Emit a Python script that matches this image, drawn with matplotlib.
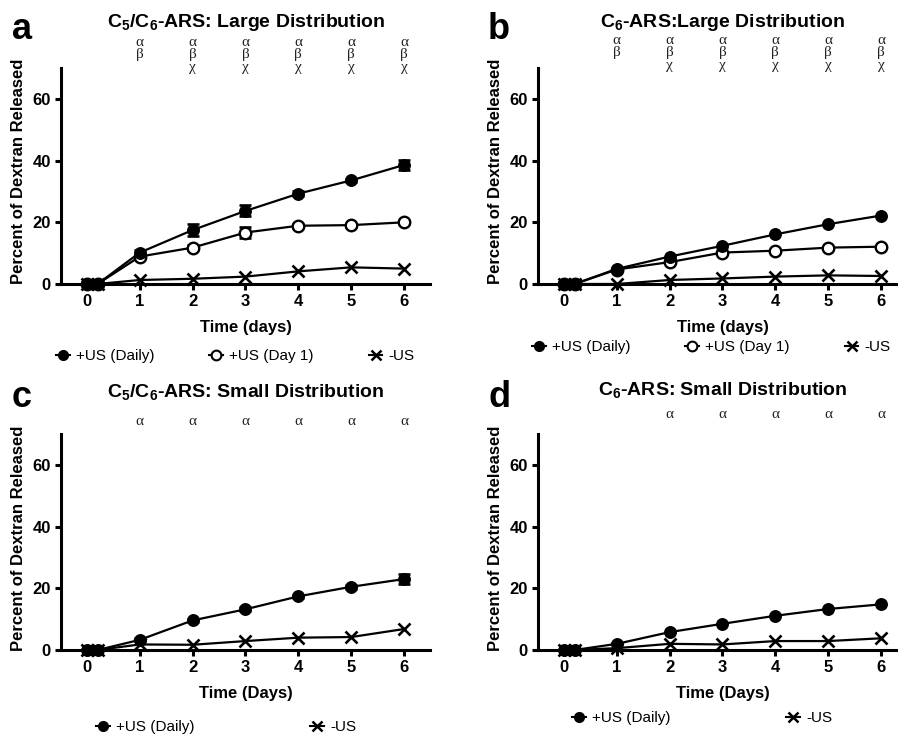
import matplotlib
matplotlib.use("Agg")
import matplotlib.pyplot as plt
from matplotlib.lines import Line2D

plt.rcParams['font.family'] = ['Liberation Sans', 'DejaVu Sans']
plt.rcParams['mathtext.fontset'] = 'custom'
plt.rcParams['mathtext.rm'] = 'Liberation Sans:bold'
plt.rcParams['mathtext.bf'] = 'Liberation Sans:bold'
plt.rcParams['mathtext.default'] = 'rm'

W, H = 898, 739

# time points (days)
days = [0, 0.2, 1, 2, 3, 4, 5, 6]

# panel a: C5/C6-ARS large
a_daily = [0, 0, 10.2, 17.5, 23.7, 29.3, 33.6, 38.6]
a_daily_err = [0, 0, 0.8, 2.0, 1.8, 0.8, 0.6, 1.5]
a_day1 = [0, 0, 8.9, 11.8, 16.7, 18.9, 19.1, 20.0]
a_day1_err = [0, 0, 0.6, 0.8, 1.8, 0.6, 0.5, 0.5]
a_nous = [0, 0, 1.3, 1.7, 2.4, 4.1, 5.4, 5.0]

# panel b: C6-ARS large
b_daily = [0, 0, 4.9, 8.9, 12.4, 16.1, 19.4, 22.2]
b_day1 = [0, 0, 4.7, 7.1, 10.2, 10.8, 11.8, 12.1]
b_nous = [0, 0, 0, 1.3, 1.8, 2.4, 2.8, 2.6]

# panel c: C5/C6-ARS small
c_daily = [0, 0, 3.3, 9.6, 13.2, 17.4, 20.5, 23.0]
c_daily_err = [0, 0, 0.5, 0.6, 0.6, 0.6, 0.6, 1.7]
c_nous = [0, 0, 1.8, 1.7, 2.9, 4.0, 4.2, 6.8]

# panel d: C6-ARS small
d_daily = [0, 0, 2.0, 5.8, 8.5, 11.1, 13.3, 14.8]
d_nous = [0, 0, 0.6, 2.0, 1.8, 2.9, 2.9, 3.8]

# significance letters above each day
a_sig = {1: "αβ", 2: "αβχ", 3: "αβχ", 4: "αβχ", 5: "αβχ", 6: "αβχ"}
b_sig = {1: "αβ", 2: "αβχ", 3: "αβχ", 4: "αβχ", 5: "αβχ", 6: "αβχ"}
c_sig = {1: "α", 2: "α", 3: "α", 4: "α", 5: "α", 6: "α"}
d_sig = {2: "α", 3: "α", 4: "α", 5: "α", 6: "α"}

lbl_daily = "+US (Daily)"
lbl_day1 = "+US (Day 1)"
lbl_nous = "-US"

fig = plt.figure(figsize=(W / 100, H / 100), dpi=100)


def px(x, y):
    return x / W, 1 - y / H


def make_axes(x0, y0):
    # x0 = pixel of x=0 ; y0 = pixel of y=0
    xs = 52.83
    ys = 3.083
    left = x0 - 0.5 * xs
    w = 7 * xs
    h = 70 * ys
    ax = fig.add_axes([left / W, 1 - y0 / H, w / W, h / H])
    ax.set_xlim(-0.5, 6.5)
    ax.set_ylim(0, 70)
    for s in ['top', 'right']:
        ax.spines[s].set_visible(False)
    for s in ['left', 'bottom']:
        ax.spines[s].set_linewidth(2.2)
    ax.set_xticks(range(7))
    ax.set_yticks([0, 20, 40, 60])
    ax.tick_params(width=2.2, length=4.5, labelsize=12, pad=2.5)
    for t in ax.get_xticklabels() + ax.get_yticklabels():
        t.set_fontweight('bold')
    return ax


def draw_series(ax, y, kind, err=None):
    if kind == 'daily':
        kw = dict(marker='o', ms=8.3, mfc='black', mec='black')
    elif kind == 'day1':
        kw = dict(marker='o', ms=8.3, mfc='white', mec='black', mew=1.7)
    else:
        kw = dict(marker='x', ms=8.5, mec='black', mew=1.9)
    if err is not None:
        ax.errorbar(days, y, yerr=err, fmt='none', ecolor='black',
                    elinewidth=1.8, capsize=4.5, capthick=1.9, zorder=3, clip_on=False)
    ax.plot(days, y, color='black', lw=1.6, zorder=4, clip_on=False, **kw)


def draw_sig(ax, sig, base_px, step=12.5):
    # base_px: pixel offset above axes top for first letter baseline
    for day, letters in sig.items():
        for i, ch in enumerate(letters):
            ax.annotate(ch, xy=(day, 1), xycoords=('data', 'axes fraction'),
                        xytext=(0, (base_px - i * step) * 0.72),
                        textcoords='offset points', ha='center', va='baseline',
                        fontsize=11, family='Liberation Serif', color='#222222',
                        annotation_clip=False)


def legend_at(ax, kinds, x, y, spacing):
    handles = []
    for k, lab in kinds:
        if k == 'daily':
            h = Line2D([], [], color='black', lw=1.5, marker='o', ms=7, mfc='black', mec='black')
        elif k == 'day1':
            h = Line2D([], [], color='black', lw=1.5, marker='o', ms=7, mfc='white', mec='black', mew=1.5)
        else:
            h = Line2D([], [], color='black', lw=1.5, marker='x', ms=7, mew=1.8)
        handles.append((h, lab))
    fx, fy = px(x, y)
    ax.legend([h for h, _ in handles], [l for _, l in handles], loc='center left',
              bbox_to_anchor=(fx, fy), bbox_transform=fig.transFigure, ncol=len(handles),
              frameon=False, fontsize=11, handlelength=0.9, handletextpad=0.4,
              columnspacing=spacing, borderpad=0, borderaxespad=0)


# ---- panel a
ax1 = make_axes(87, 284)
draw_series(ax1, a_nous, 'nous')
draw_series(ax1, a_day1, 'day1', a_day1_err)
draw_series(ax1, a_daily, 'daily', a_daily_err)
draw_sig(ax1, a_sig, 22.5)
ax1.set_xlabel("Time (days)", fontsize=12, fontweight='bold')
ax1.xaxis.set_label_coords(0.5, -0.165)
legend_at(ax1, [('daily', lbl_daily), ('day1', lbl_day1), ('nous', lbl_nous)], 56, 356, 3.6)

# ---- panel b
ax2 = make_axes(564, 284)
draw_series(ax2, b_nous, 'nous')
draw_series(ax2, b_day1, 'day1')
draw_series(ax2, b_daily, 'daily')
draw_sig(ax2, b_sig, 24.5)
ax2.set_xlabel("Time (days)", fontsize=12, fontweight='bold')
ax2.xaxis.set_label_coords(0.5, -0.165)
legend_at(ax2, [('daily', lbl_daily), ('day1', lbl_day1), ('nous', lbl_nous)], 532, 347, 3.6)

# ---- panel c
ax3 = make_axes(87, 650)
draw_series(ax3, c_nous, 'nous')
draw_series(ax3, c_daily, 'daily', c_daily_err)
draw_sig(ax3, c_sig, 434 - 424.5)
ax3.set_xlabel("Time (Days)", fontsize=12, fontweight='bold')
ax3.xaxis.set_label_coords(0.5, -0.165)
legend_at(ax3, [('daily', lbl_daily), ('nous', lbl_nous)], 96, 727, 7.6)

# ---- panel d
ax4 = make_axes(564, 650)
draw_series(ax4, d_nous, 'nous')
draw_series(ax4, d_daily, 'daily')
draw_sig(ax4, d_sig, 434 - 417.5)
ax4.set_xlabel("Time (Days)", fontsize=12, fontweight='bold')
ax4.xaxis.set_label_coords(0.5, -0.165)
legend_at(ax4, [('daily', lbl_daily), ('nous', lbl_nous)], 572, 718, 7.6)

# titles
titles = [
    (r"C$_5$/C$_6$-ARS: Large Distribution", 246, 27),
    (r"C$_6$-ARS:Large Distribution", 723, 27),
    (r"C$_5$/C$_6$-ARS: Small Distribution", 246, 397),
    (r"C$_6$-ARS: Small Distribution", 723, 395),
]
for txt, x, y in titles:
    fx, fy = px(x, y)
    fig.text(fx, fy, txt, ha='center', va='baseline', fontsize=14, fontweight='bold')

# panel letters
for ch, x, y in [('a', 12, 39), ('b', 488, 39), ('c', 12, 407), ('d', 488, 407)]:
    fx, fy = px(x, y)
    fig.text(fx, fy, ch, ha='left', va='baseline', fontsize=26, fontweight='bold')

# y labels
for x, y in [(19, 171), (496, 171), (19, 538), (496, 538)]:
    fx, fy = px(x, y)
    fig.text(fx, fy, "Percent of Dextran Released", rotation=90, ha='center', va='center',
             fontsize=12, fontweight='bold')

plt.savefig("out.png", dpi=100)
